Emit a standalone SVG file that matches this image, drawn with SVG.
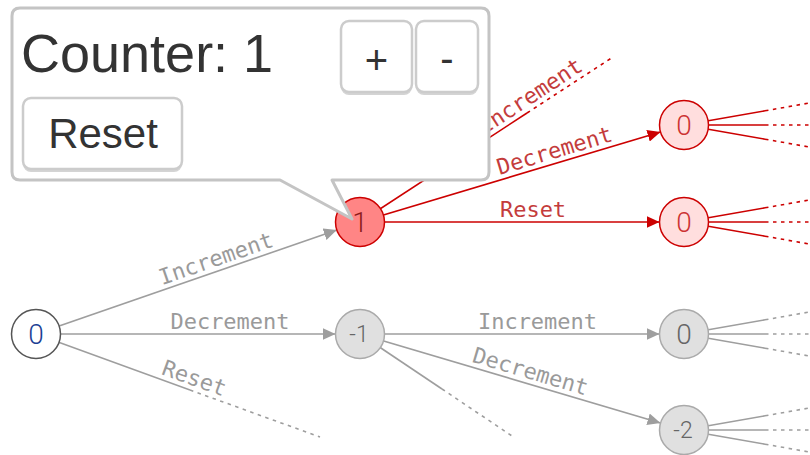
<svg xmlns="http://www.w3.org/2000/svg" width="810" height="455" viewBox="0 0 810 455">
  <defs>
    <marker id="arrow-gray" markerUnits="userSpaceOnUse" markerWidth="14" markerHeight="12" refX="13" refY="6" orient="auto">
      <path d="M0,0 L13,6 L0,12 Z" fill="#9e9e9e"/>
    </marker>
    <marker id="arrow-red" markerUnits="userSpaceOnUse" markerWidth="14" markerHeight="12" refX="13" refY="6" orient="auto">
      <path d="M0,0 L13,6 L0,12 Z" fill="#cc0000"/>
    </marker>
  </defs>
  <style>
    .edge { fill: none; stroke-width: 1.6; }
    .gray { stroke: #9e9e9e; }
    .red { stroke: #cc0000; }
    .dots { stroke-dasharray: 3.5 4.5; }
    .elabel { font-family: "DejaVu Sans Mono", "Liberation Mono", monospace; font-size: 22px; text-anchor: middle; }
    .elabel.g { fill: #9a9a9a; }
    .elabel.r { fill: #c43c3c; }
    .node circle { stroke-width: 1.5; }
    .nlabel { font-family: Roboto, "Liberation Sans", sans-serif; font-weight: 300; text-anchor: middle; }
    .n-root circle { fill: #ffffff; stroke: #555555; }
    .n-root text { fill: #1c3f94; }
    .n-active circle { fill: #ff8585; stroke: #cc0000; }
    .n-active text { fill: #8b1a1a; }
    .n-next circle { fill: #ffdede; stroke: #cc0000; }
    .n-next text { fill: #cc3333; }
    .n-idle circle { fill: #e0e0e0; stroke: #aaaaaa; }
    .n-idle text { fill: #666666; }
    .btn { fill: #ffffff; stroke: #cccccc; stroke-width: 2.5; }
    .btn-shadow { fill: #d4d4d4; }
    .ui { font-family: "Liberation Sans", Arial, sans-serif; fill: #333333; }
  </style>

  <!-- transitions -->
  <g id="connectors">
    <!-- from root 0 -->
    <line class="edge gray" x1="36" y1="334" x2="336.8" y2="230" marker-end="url(#arrow-gray)"/>
    <line class="edge gray" x1="60" y1="334" x2="335.5" y2="334" marker-end="url(#arrow-gray)"/>
    <line class="edge gray" x1="36" y1="334" x2="190" y2="390"/>
    <line class="edge gray dots" x1="190" y1="390" x2="320" y2="437"/>

    <!-- from 1 -->
    <line class="edge red" x1="360" y1="222" x2="527" y2="113"/>
    <line class="edge red dots" x1="527" y1="113" x2="613" y2="57"/>
    <line class="edge red" x1="360" y1="222" x2="660.5" y2="132" marker-end="url(#arrow-red)"/>
    <line class="edge red" x1="384" y1="222" x2="659.5" y2="222" marker-end="url(#arrow-red)"/>

    <!-- from -1 -->
    <line class="edge gray" x1="384" y1="334" x2="659.5" y2="334" marker-end="url(#arrow-gray)"/>
    <line class="edge gray" x1="360" y1="334" x2="660.5" y2="423" marker-end="url(#arrow-gray)"/>
    <line class="edge gray" x1="360" y1="334" x2="442" y2="389"/>
    <line class="edge gray dots" x1="442" y1="389" x2="515" y2="438"/>

    <!-- fan-out of the third level (red) -->
    <g class="red">
      <path class="edge" d="M684,125 L765,110.8 M684,125 L765,125 M684,125 L765,139.2"/>
      <path class="edge dots" d="M765,110.8 L815,102 M765,125 L815,125 M765,139.2 L815,148"/>
      <path class="edge" d="M684,222 L765,207.8 M684,222 L765,222 M684,222 L765,236.2"/>
      <path class="edge dots" d="M765,207.8 L815,199 M765,222 L815,222 M765,236.2 L815,245"/>
    </g>
    <!-- fan-out of the third level (gray) -->
    <g class="gray">
      <path class="edge" d="M684,334 L765,319.8 M684,334 L765,334 M684,334 L765,348.2"/>
      <path class="edge dots" d="M765,319.8 L815,311 M765,334 L815,334 M765,348.2 L815,357"/>
      <path class="edge" d="M684,430 L765,415.8 M684,430 L765,430 M684,430 L765,444.2"/>
      <path class="edge dots" d="M765,415.8 L815,407 M765,430 L815,430 M765,444.2 L815,453"/>
    </g>

    <!-- transition labels -->
    <text class="elabel g" transform="translate(220,270.4) rotate(-19.07)" y="-5">Increment</text>
    <text class="elabel g" transform="translate(230,334)" y="-5">Decrement</text>
    <text class="elabel g" transform="translate(190,390) rotate(19.9)" y="-5">Reset</text>
    <text class="elabel r" transform="translate(537,106.5) rotate(-33.1)" y="-5">Increment</text>
    <text class="elabel r" transform="translate(558,162.7) rotate(-16.67)" y="-5">Decrement</text>
    <text class="elabel r" transform="translate(533,222)" y="-5">Reset</text>
    <text class="elabel g" transform="translate(537.5,334)" y="-5">Increment</text>
    <text class="elabel g" transform="translate(527,383.5) rotate(16.5)" y="-5">Decrement</text>
  </g>

  <!-- states -->
  <g id="node-root" class="node n-root">
    <circle cx="36" cy="334" r="24.5"/>
    <text class="nlabel" x="36" y="344" font-size="28">0</text>
  </g>
  <g id="node-one" class="node n-active">
    <circle cx="360" cy="222" r="24.5"/>
    <text class="nlabel" x="360" y="232" font-size="28">1</text>
  </g>
  <g id="node-minus-one" class="node n-idle">
    <circle cx="360" cy="334" r="24.5"/>
    <text class="nlabel" x="359" y="342.3" font-size="23">-1</text>
  </g>
  <g id="node-one-inc" class="node n-next">
    <circle cx="684" cy="125" r="24.5"/>
    <text class="nlabel" x="684" y="135" font-size="28">0</text>
  </g>
  <g id="node-one-reset" class="node n-next">
    <circle cx="684" cy="222" r="24.5"/>
    <text class="nlabel" x="684" y="232" font-size="28">0</text>
  </g>
  <g id="node-minus-one-inc" class="node n-idle">
    <circle cx="684" cy="334" r="24.5"/>
    <text class="nlabel" x="684" y="344" font-size="28">0</text>
  </g>
  <g id="node-minus-two" class="node n-idle">
    <circle cx="684" cy="430" r="24.5"/>
    <text class="nlabel" x="683" y="438.3" font-size="23">-2</text>
  </g>

  <!-- counter widget callout pointing at the current state -->
  <g id="counter-popup">
    <path d="M20,8 H481 Q489,8 489,16 V172 Q489,180 481,180 H332 L352,219 L280,180 H20 Q12,180 12,172 V16 Q12,8 20,8 Z" fill="#ffffff" stroke="#c4c4c4" stroke-width="3" stroke-linejoin="round"/>
    <text class="ui" x="21" y="72" font-size="54">Counter: 1</text>

    <g id="btn-plus">
      <rect class="btn-shadow" x="341" y="23" width="71" height="72" rx="8"/>
      <rect class="btn" x="341" y="21" width="71" height="71" rx="8"/>
      <text class="ui" x="376.5" y="74" font-size="40" text-anchor="middle">+</text>
    </g>
    <g id="btn-minus">
      <rect class="btn-shadow" x="416" y="23" width="62" height="72" rx="8"/>
      <rect class="btn" x="416" y="21" width="62" height="71" rx="8"/>
      <text class="ui" x="447" y="72" font-size="40" text-anchor="middle">-</text>
    </g>
    <g id="btn-reset">
      <rect class="btn-shadow" x="23" y="100" width="159" height="72" rx="8"/>
      <rect class="btn" x="23" y="98" width="159" height="71" rx="8"/>
      <text class="ui" x="103" y="148" font-size="42" text-anchor="middle">Reset</text>
    </g>
  </g>
</svg>
